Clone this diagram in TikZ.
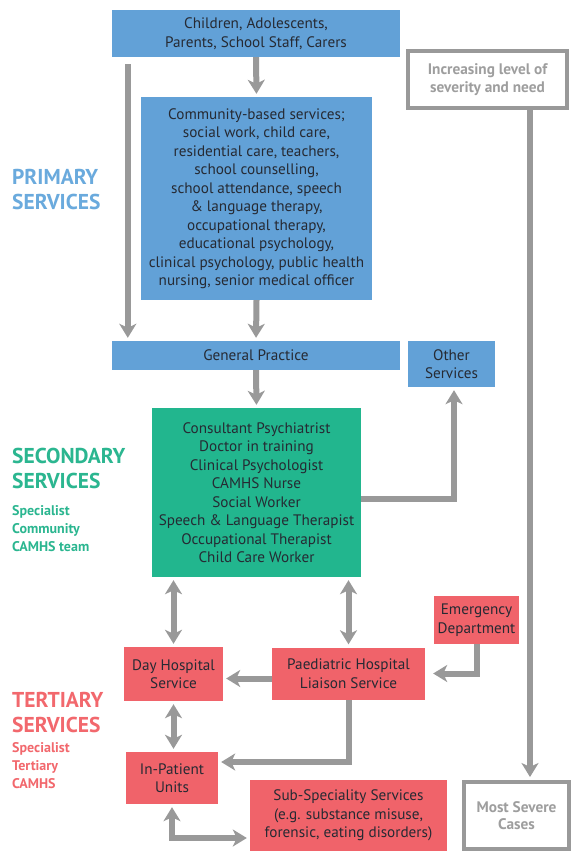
\documentclass[tikz,border=0pt]{standalone}
\usepackage{fontspec}
\setmainfont{PT Sans}
\usetikzlibrary{arrows.meta,calc}
\definecolor{bxblue}{HTML}{62A1D7}
\definecolor{bxgreen}{HTML}{22B68E}
\definecolor{bxred}{HTML}{F0636A}
\definecolor{arr}{HTML}{999999}
\definecolor{txt}{HTML}{262A33}
\definecolor{lblblue}{HTML}{6AAADD}
\definecolor{lblgreen}{HTML}{2BB690}
\definecolor{lblred}{HTML}{F2686D}
\definecolor{greytxt}{HTML}{9E9E9E}
\begin{document}
\begin{tikzpicture}[x=1pt,y=-1pt,
  box/.style={inner sep=0pt, align=center, text=txt, font=\fontsize{15.2}{18.5}\selectfont},
  bluebox/.style={box, fill=bxblue},
  greenbox/.style={box, fill=bxgreen},
  redbox/.style={box, fill=bxred},
  outbox/.style={inner sep=0pt, align=center, text=greytxt, draw=arr, line width=4pt, fill=white, font=\bfseries\fontsize{15.3}{17.5}\selectfont},
  conn/.style={draw=arr, line width=6pt, -{Stealth[length=14pt,width=17pt,inset=4pt]}, shorten >=3pt},
  dconn/.style={draw=arr, line width=6pt, {Stealth[length=14pt,width=17pt,inset=4pt]}-{Stealth[length=14pt,width=17pt,inset=4pt]}, shorten >=3pt, shorten <=3pt},
  biglbl/.style={anchor=west, align=left, inner sep=0pt, font=\bfseries\fontsize{21.5}{25}\selectfont},
  smalllbl/.style={anchor=west, align=left, inner sep=0pt, font=\bfseries\fontsize{14}{18}\selectfont}
]
\useasboundingbox (0,0) rectangle (571,851);
\fill[white] (0,0) rectangle (571,851);

% boxes
\node[bluebox, minimum width=288pt, minimum height=47pt] (top) at (256,33.5) {Children, Adolescents,\\Parents, School Staff, Carers};
\node[bluebox, minimum width=231pt, minimum height=203pt] (comm) at (256.5,198.5) {Community-based services;\\social work, child care,\\residential care, teachers,\\school counselling,\\school attendance, speech\\\& language therapy,\\occupational therapy,\\educational psychology,\\clinical psychology, public health\\nursing, senior medical officer};
\node[bluebox, minimum width=288pt, minimum height=29pt] (gp) at (256,355.5) {General Practice};
\node[bluebox, minimum width=87pt, minimum height=46pt] (other) at (451.5,364) {Other\\Services};
\node[greenbox, minimum width=209pt, minimum height=169pt] (green) at (256.5,492.5) {Consultant Psychiatrist\\Doctor in training\\Clinical Psychologist\\CAMHS Nurse\\Social Worker\\Speech \& Language Therapist\\Occupational Therapist\\Child Care Worker};
\node[redbox, minimum width=99pt, minimum height=54pt] (day) at (173.5,674) {Day Hospital\\Service};
\node[redbox, minimum width=153pt, minimum height=52pt] (paed) at (348.5,673.5) {Paediatric Hospital\\Liaison Service};
\node[redbox, minimum width=85pt, minimum height=48pt] (emerg) at (476.5,620) {Emergency\\Department};
\node[redbox, minimum width=92pt, minimum height=52pt] (inpat) at (172,778) {In-Patient\\Units};
\node[redbox, minimum width=197pt, minimum height=71pt] (sub) at (348.5,815.5) {Sub-Speciality Services\\(e.g. substance misuse,\\forensic, eating disorders)};
\node[outbox, minimum width=159pt, minimum height=57pt] (sev) at (487.5,79.5) {Increasing level of\\severity and need};
\node[outbox, minimum width=105pt, minimum height=67pt] (severe) at (516.5,815.5) {Most Severe\\Cases};

% labels
\node[biglbl, text=lblblue] (lp) at (12,189.5) {PRIMARY\\SERVICES};
\node[biglbl, text=lblgreen] (ls) at (12,468.5) {SECONDARY\\SERVICES};
\node[smalllbl, text=lblgreen] (lss) at (12,529) {Specialist\\Community\\CAMHS team};
\node[biglbl, text=lblred] (lt) at (12,713) {TERTIARY\\SERVICES};
\node[smalllbl, text=lblred] (lts) at (12,766) {Specialist\\Tertiary\\CAMHS};

% connectors
\draw[conn] (top.south) -- (comm.north);
\draw[conn] ([xshift=16pt,yshift=-7pt]top.south west) -- ([xshift=16pt]gp.north west);
\draw[conn] (comm.south) -- (gp.north);
\draw[conn] (gp.south) -- (green.north);
\draw[conn] ([yshift=-6.5pt]green.east) -| ([xshift=2.5pt]other.south);
\draw[dconn] (green.south -| day.north) -- (day.north);
\draw[dconn] (green.south -| paed.north) -- (paed.north);
\draw[conn, shorten >=8pt] (emerg.south) |- (paed.east);
\draw[conn] ([yshift=-5pt]paed.west) -- ([yshift=-5pt]paed.west -| day.east);
\draw[dconn] (day.south) -- (day.south |- inpat.north);
\draw[conn] (paed.south) |- ([yshift=16pt]inpat.east);
\draw[dconn] (inpat.south) |- ([yshift=-22.5pt]sub.west);
\draw[conn] ([xshift=42.5pt]sev.south) -- ([xshift=13.5pt]severe.north);
\end{tikzpicture}
\end{document}
